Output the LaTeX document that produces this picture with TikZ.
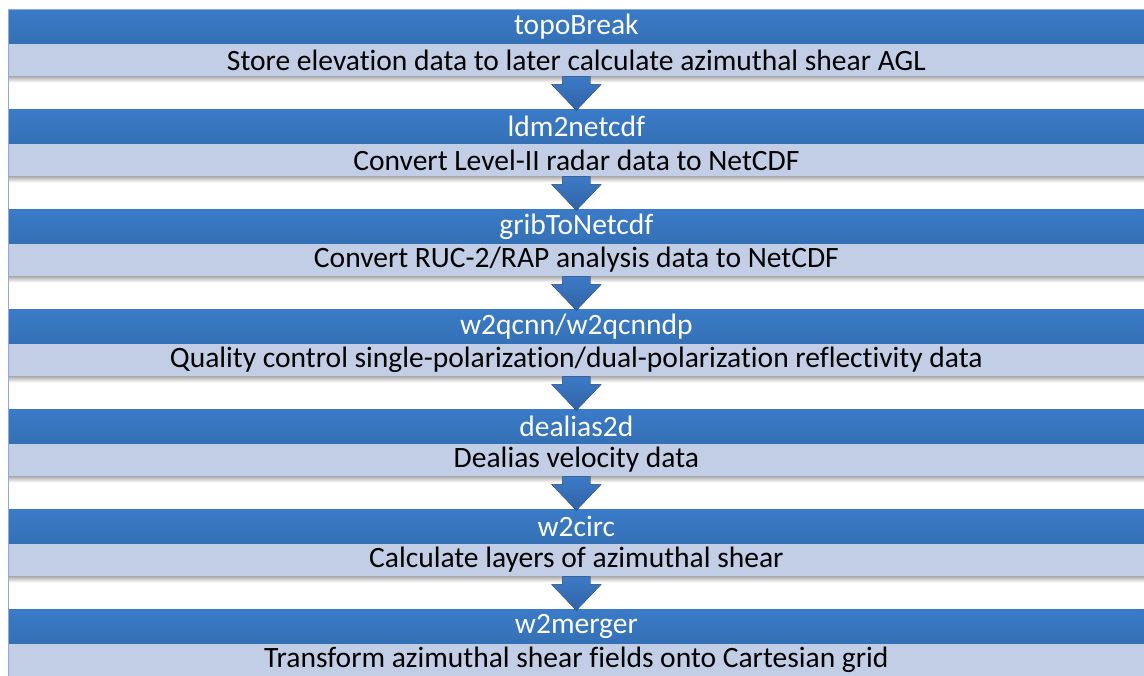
\documentclass[tikz,border=0pt]{standalone}
\usepackage{fontspec}
\setmainfont{Carlito}[Ligatures=NoCommon]
\usetikzlibrary{positioning}

\definecolor{headblue}{HTML}{3A7BC8}
\definecolor{headblueb}{HTML}{3470B5}
\definecolor{bandblue}{HTML}{C2CEE5}
\definecolor{framecol}{HTML}{8EAADB}
\definecolor{arrowtop}{HTML}{3D7BC6}
\definecolor{arrowbot}{HTML}{2E62A6}

\tikzset{
  stephead/.style={rectangle, anchor=north west, inner sep=0pt,
    minimum width=22.72cm, minimum height=0.68cm,
    top color=headblue, bottom color=headblueb, text=white,
    font=\fontsize{16.8}{19}\selectfont},
  stepdesc/.style={rectangle, inner sep=0pt, fill=bandblue,
    minimum width=22.72cm, minimum height=0.64cm, text=black,
    font=\fontsize{16.8}{19}\selectfont},
  flowarrow/.style={top color=arrowtop, bottom color=arrowbot},
  bandshadow/.style={top color=black!32, bottom color=white}
}

\begin{document}
\begin{tikzpicture}
    % Fix the page size
    \useasboundingbox[fill=white] (0,0) rectangle (22.88,-13.5);

    % Draw the steps
    \foreach \i/\title/\desc in {
        1/{topoBreak}/{Store elevation data to later calculate azimuthal shear AGL},
        2/{ldm2netcdf}/{Convert Level-II radar data to NetCDF},
        3/{gribToNetcdf}/{Convert RUC-2/RAP analysis data to NetCDF},
        4/{w2qcnn/w2qcnndp}/{Quality control single-polarization/dual-polarization reflectivity data},
        5/{dealias2d}/{Dealias velocity data},
        6/{w2circ}/{Calculate layers of azimuthal shear},
        7/{w2merger}/{Transform azimuthal shear fields onto Cartesian grid}}
    {
        \node[stephead] (t\i) at (0.16,{-0.18-2*(\i-1)}) {\title};
        \node[stepdesc, below=0pt of t\i] (d\i) {\desc};
    }

    % Draw the shadows under the bands
    \foreach \i in {1,...,6} {
        \shade[bandshadow] (d\i.south west) rectangle ([yshift=-0.12cm]d\i.south east);
    }

    % Draw the arrows between the steps
    \foreach \i [evaluate=\i as \j using int(\i+1)] in {1,...,6} {
        \fill[flowarrow] ([xshift=-0.28cm]d\i.south)
            -- ([xshift=-0.28cm,yshift=-0.16cm]d\i.south)
            -- ([xshift=-0.5cm,yshift=-0.16cm]d\i.south)
            -- ([yshift=-0.03cm]t\j.north)
            -- ([xshift=0.5cm,yshift=-0.16cm]d\i.south)
            -- ([xshift=0.28cm,yshift=-0.16cm]d\i.south)
            -- ([xshift=0.28cm]d\i.south) -- cycle;
    }

    % Draw the frame
    \draw[framecol, line width=0.5pt] (d7.south east) -- (d7.south west)
        -- (t1.north west) -- (t1.north east);

\end{tikzpicture}
\end{document}
